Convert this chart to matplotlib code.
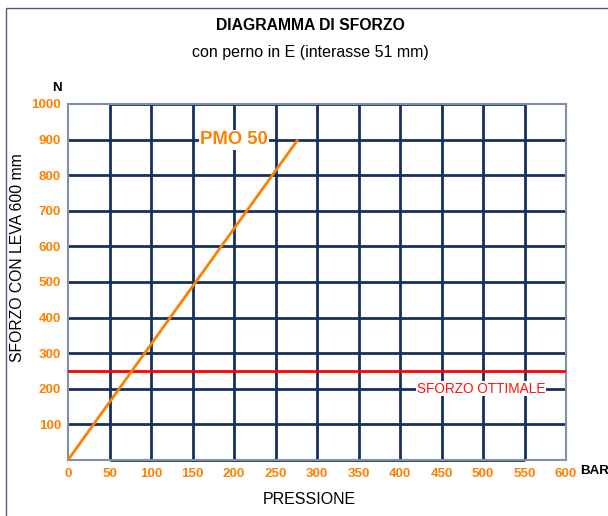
import matplotlib
matplotlib.use("Agg")
import matplotlib.pyplot as plt
from matplotlib.patches import Rectangle

plt.rcParams["font.family"] = ["Liberation Sans", "DejaVu Sans"]

# data
pressure_bar = [0, 277]
force_n = [0, 900]
optimal_force = 250
x_ticks = [0, 50, 100, 150, 200, 250, 300, 350, 400, 450, 500, 550, 600]
y_ticks = [100, 200, 300, 400, 500, 600, 700, 800, 900, 1000]
series_label = "PMO 50"
optimal_label = "SFORZO OTTIMALE"

ORANGE = "#ff8000"
NAVY = "#15305e"
FRAME = "#8090aa"

W, H = 608, 516
fig = plt.figure(figsize=(W / 100, H / 100), dpi=100)
ax = fig.add_axes([68 / W, 1 - 460 / H, (566 - 68) / W, (460 - 104) / H])

# figure border
fig.patches.append(Rectangle((6 / W, -0.05), 1.0, 1 - 8 / H + 0.05,
                             transform=fig.transFigure, fill=False,
                             edgecolor="#4a5f80", linewidth=1.0))

ax.set_xlim(0, 600)
ax.set_ylim(0, 1000)

# grid
for x in x_ticks[1:-1]:
    ax.axvline(x, color=NAVY, linewidth=2.0, zorder=1)
for y in y_ticks[:-1]:
    ax.axhline(y, color=NAVY, linewidth=2.0, zorder=1)
ax.hlines([0, 1000], 50, 550, color=NAVY, linewidth=2.0, zorder=1, clip_on=False)

for side in ["left", "right", "top", "bottom"]:
    ax.spines[side].set_color(FRAME)
    ax.spines[side].set_linewidth(1.5)

ax.axhline(optimal_force, color="#ff0000", linewidth=2.0, zorder=3)
ax.plot(pressure_bar, force_n, color=ORANGE, linewidth=2.0, zorder=4,
        solid_capstyle="butt")

ax.text(200, 900, series_label, color=ORANGE, fontsize=13.3, fontweight="bold",
        ha="center", va="center", zorder=5,
        bbox=dict(facecolor="white", edgecolor="none", pad=1))
ax.text(498, 200, optimal_label, color="#ff1010", fontsize=9.8,
        ha="center", va="center", zorder=5,
        bbox=dict(facecolor="white", edgecolor="none", pad=0.5))

ax.set_xticks(x_ticks)
ax.set_yticks(y_ticks)
ax.tick_params(length=0, labelsize=9.6, labelcolor=ORANGE)
ax.tick_params(axis="x", pad=6)
ax.tick_params(axis="y", pad=5)
for lbl in ax.get_xticklabels() + ax.get_yticklabels():
    lbl.set_fontweight("bold")

fig.text(57 / W, 1 - 88 / H, "N", ha="center", va="center",
         fontsize=9.6, fontweight="bold", color="black")
fig.text(580 / W, 1 - 471 / H, "BAR", ha="left", va="center",
         fontsize=9.6, fontweight="bold", color="black")

fig.text(309 / W, 1 - 500 / H, "PRESSIONE", ha="center", va="center",
         fontsize=11.5)
fig.text(18 / W, 1 - 258 / H, "SFORZO CON LEVA 600 mm", ha="center",
         va="center", rotation=90, fontsize=11.3)

fig.text(310 / W, 1 - 26 / H, "DIAGRAMMA DI SFORZO", ha="center", va="center",
         fontsize=11.3, fontweight="bold")
fig.text(310 / W, 1 - 52 / H, "con perno in E (interasse 51 mm)", ha="center",
         va="center", fontsize=11.5)

fig.savefig("out.png", dpi=100)
